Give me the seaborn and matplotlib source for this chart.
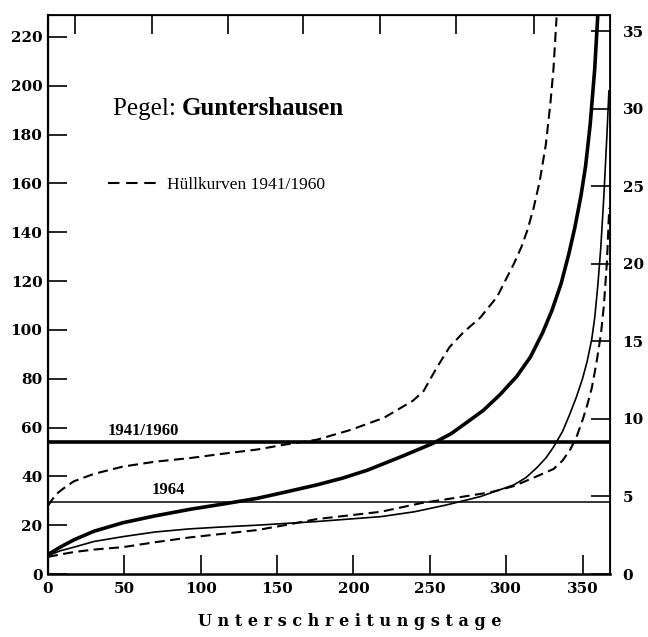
import matplotlib
matplotlib.use("Agg")
import matplotlib.pyplot as plt
import seaborn as sns
from matplotlib.lines import Line2D

# ---------------- data ----------------
days_upper = [0, 5, 10, 17, 30, 49, 70, 93, 115, 137, 155, 176, 198, 220, 239, 246, 250, 255, 263, 272,
              283, 294, 305, 310, 314, 318, 322, 326, 329, 331, 333]
q_upper = [28, 32.5, 35, 38, 41, 44, 46, 47.5, 49.3, 51, 53, 55, 59, 64, 71, 75, 79.5, 85, 93, 99,
           105, 113.5, 127, 134, 141, 150, 161, 176, 193, 207, 228]

days_mean = [0, 8, 17, 30, 49, 70, 93, 115, 137, 155, 176, 193, 209, 231, 252, 264, 274, 285, 296, 307,
             316, 324, 330, 336, 341, 345, 349, 352, 355, 358, 360]
q_mean = [8, 11, 14, 17.5, 21, 23.8, 26.5, 28.7, 31, 33.5, 36.5, 39.3, 42.5, 48, 53.5, 57.5, 62, 67, 73.5, 81,
          89, 99, 108, 119, 131, 142, 155, 167, 184, 207, 229]

days_1964 = [0, 8, 17, 30, 49, 70, 93, 115, 137, 176, 218, 240, 261, 283, 305, 313, 320, 326, 331, 337,
             342, 346, 350, 353, 356, 358, 360, 362, 364, 366, 367.3]
q_1964 = [7.5, 9.5, 11, 13.3, 15.3, 17.2, 18.5, 19.3, 20, 21.5, 23.5, 25.5, 28.3, 31.7, 36.5, 39.5, 43.5, 47.5, 52, 58.5,
          66, 72.5, 80, 87, 96, 105, 118, 134, 155, 180, 198]

days_lower = [0, 8, 17, 30, 49, 70, 93, 115, 137, 155, 176, 197, 218, 244, 272, 290, 305, 320, 331, 337,
              342, 346, 350, 353, 356, 359, 362, 364, 366, 367.5]
q_lower = [7, 8, 9, 10, 11, 13, 15, 16.5, 18, 20, 22.5, 24, 25.5, 29, 31.7, 33.5, 36, 40, 43, 46.5,
           51, 56, 63, 69, 76, 86, 98, 110, 128, 150]

mean_1941_1960 = 54
mean_1964 = 29.5

x_ticks = [0, 50, 100, 150, 200, 250, 300, 350]
top_ticks = [17.7, 68, 118, 167, 217.5, 267, 318]
y_left_ticks = [0, 20, 40, 60, 80, 100, 120, 140, 160, 180, 200, 220]
y_right_ticks = [0, 5, 10, 15, 20, 25, 30, 35]
scale_ratio = 6.35  # left units per right unit

title_regular = "Pegel: "
title_bold = "Guntershausen"
legend_label = "Hüllkurven 1941/1960"
x_label = "Unterschreitungstage"

# ---------------- style ----------------
sns.set_style("ticks")
plt.rcParams["font.family"] = ["DejaVu Serif"]
plt.rcParams["text.color"] = "black"
plt.rcParams["axes.labelcolor"] = "black"
plt.rcParams["xtick.color"] = "black"
plt.rcParams["ytick.color"] = "black"
plt.rcParams["axes.edgecolor"] = "black"

fig = plt.figure(figsize=(6.48, 6.37), dpi=100)
ax = fig.add_axes([48/648, 1-574/637, 562/648, 559/637])

dash = (0, (4.8, 2.6))
sns.lineplot(x=days_upper, y=q_upper, ax=ax, color="black", lw=1.5, linestyle=dash, sort=False)
sns.lineplot(x=days_lower, y=q_lower, ax=ax, color="black", lw=1.5, linestyle=dash, sort=False)
sns.lineplot(x=days_mean, y=q_mean, ax=ax, color="black", lw=2.6, sort=False)
sns.lineplot(x=days_1964, y=q_1964, ax=ax, color="black", lw=1.2, sort=False)

ax.axhline(mean_1941_1960, color="black", lw=2.6)
ax.axhline(mean_1964, color="black", lw=1.1)

ax.set_xlim(0, 368)
ax.set_ylim(0, 229)

for s in ax.spines.values():
    s.set_color("black")
ax.spines["left"].set_linewidth(1.6)
ax.spines["bottom"].set_linewidth(1.8)
ax.spines["top"].set_linewidth(1.3)
ax.spines["right"].set_linewidth(1.3)

ax.set_xticks(x_ticks)
ax.set_yticks(y_left_ticks)
ax.tick_params(axis="x", direction="in", length=14, width=1.2, pad=6, labelsize=11, colors="black")
ax.tick_params(axis="y", direction="in", length=14, width=1.2, pad=4, labelsize=11, colors="black")
for lab in ax.get_xticklabels() + ax.get_yticklabels():
    lab.set_fontweight("bold")

# top inward ticks
top = ax.secondary_xaxis("top")
top.set_xticks(top_ticks, labels=[])
top.tick_params(direction="in", length=14, width=1.2, colors="black")

# right axis
ax2 = ax.twinx()
ax2.set_ylim(0, 229 / scale_ratio)
ax2.set_yticks(y_right_ticks)
ax2.tick_params(axis="y", direction="in", length=14, width=1.2, pad=9, labelsize=11, colors="black")
for lab in ax2.get_yticklabels():
    lab.set_fontweight("bold")
ax2.grid(False)

ax.set_xlabel("")
ax.set_ylabel("")
fig.text(350/648, 1-622/637, " ".join(x_label), ha="center", va="center",
         fontsize=11.5, fontweight="bold", family="DejaVu Serif", color="black")

# labels on the horizontal lines
ax.text(39, mean_1941_1960 + 1.5, "1941/1960", fontsize=12, fontweight="bold",
        family="Liberation Serif", va="bottom", ha="left", color="black")
ax.text(68, mean_1964 + 1.5, "1964", fontsize=12, fontweight="bold",
        family="Liberation Serif", va="bottom", ha="left", color="black")

# title
t1 = ax.text((113-48)/562, (574-115)/559, title_regular, transform=ax.transAxes,
             fontsize=18, family="Liberation Serif", va="baseline", ha="left", color="black")
ax.annotate(title_bold, xycoords=t1, xy=(1, 0), va="bottom", ha="left",
            fontsize=18, fontweight="bold", family="Liberation Serif", color="black")

# legend
h = Line2D([], [], color="black", lw=1.5, linestyle=(0, (5.5, 3.2)))
leg = ax.legend([h], [legend_label], loc="center left",
                bbox_to_anchor=((108-48)/562, (574-185)/559), frameon=False,
                borderpad=0, borderaxespad=0, handlelength=3.1, handletextpad=0.3,
                prop={"family": "Liberation Serif", "size": 12.5})
for txt in leg.get_texts():
    txt.set_color("black")

fig.savefig("out.png", dpi=100)
